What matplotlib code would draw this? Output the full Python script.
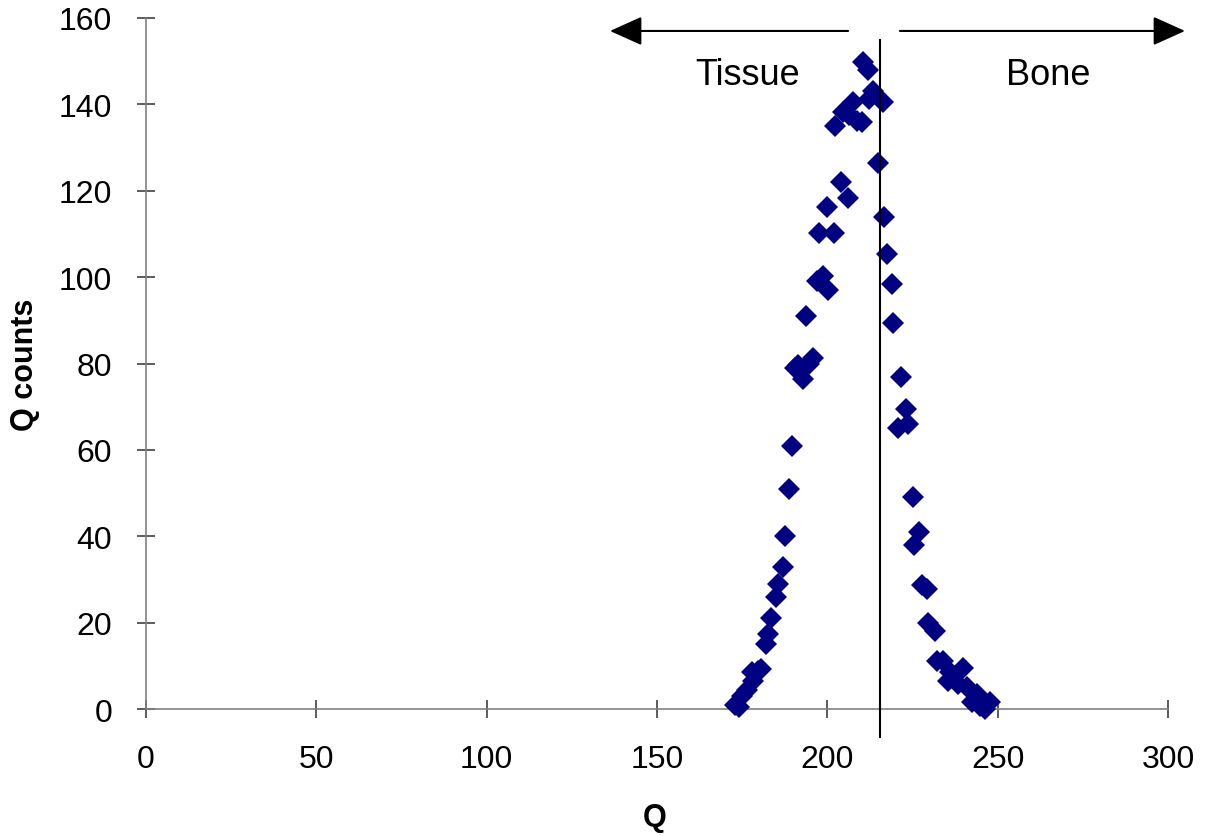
import matplotlib
matplotlib.use("Agg")
import matplotlib.pyplot as plt

plt.rcParams['font.family'] = ['Liberation Sans', 'DejaVu Sans']

# histogram points
q = [173, 174, 175, 176.5, 178, 178.2, 179.6, 180.5, 182, 182.5, 183.5, 185, 185.5,
     187, 187.6, 188.7, 189.6, 190.5, 191.4, 192.9, 193.7, 194.6, 195.8, 197, 197.6,
     198.7, 199.9, 200.2, 202, 202.2, 204, 204.6, 206.1, 206.5, 207.5, 208.7, 210.2,
     210.5, 211.9, 212.2, 213.4, 214.9, 216.3, 216.6, 217.5, 219, 219.3, 220.7, 221.6,
     223.1, 223.7, 225.1, 225.4, 226.9, 227.8, 229.3, 229.5, 231.5, 232.2, 233.9,
     235.4, 236, 238.4, 239.8, 241, 242.5, 243.9, 244.8, 246.3, 247.7]
counts = [1, 0.5, 3, 4.5, 8.5, 6.5, 8.8, 9.3, 15, 17.4, 21, 26, 29,
          33, 40, 51, 61, 79, 79.6, 76.4, 91, 80, 81.3, 99, 110.2,
          100.3, 116.2, 97, 110.2, 135, 122, 138.2, 118.3, 137.5, 140.5, 136.1, 135.9,
          149.8, 147.9, 141.2, 143.1, 126.4, 140.5, 113.9, 105.3, 98.4, 89.4, 65.1, 76.9,
          69.5, 66, 49.1, 38, 41, 28.7, 27.8, 20, 18.1, 11.1, 11.1,
          6.5, 8.6, 5.8, 9.5, 5.1, 1.6, 3.5, 0.7, 0, 1.6]

threshold = 215.5
regions = ["Tissue", "Bone"]

fig = plt.figure(figsize=(12.15, 8.37), dpi=100)
ax = fig.add_axes([0.1202, 0.1517, 0.8411, 0.8256])

ax.plot(q, counts, linestyle='none', marker='D', markersize=11,
        color='#000080', markeredgewidth=0, clip_on=False, zorder=3)

# threshold line
ax.plot([threshold, threshold], [-6.5, 154.8], color='black', lw=1.5,
        clip_on=False, zorder=4)

# region arrows
arrow = dict(arrowstyle='-|>,head_length=1.0,head_width=0.45', lw=1.5,
             color='black', mutation_scale=20, shrinkA=0, shrinkB=0)
ax.annotate('', xy=(136.2, 157), xytext=(206.1, 157), arrowprops=arrow,
            annotation_clip=False)
ax.annotate('', xy=(305, 157), xytext=(221.3, 157), arrowprops=arrow,
            annotation_clip=False)
ax.text(176.7, 147, regions[0], fontsize=26, ha='center', va='center')
ax.text(264.8, 147, regions[1], fontsize=26, ha='center', va='center')

ax.set_xlim(0, 300)
ax.set_ylim(0, 160)
ax.set_xticks(range(0, 301, 50))
ax.set_yticks(range(0, 161, 20))

for s in ['top', 'right']:
    ax.spines[s].set_visible(False)
for s in ['left', 'bottom']:
    ax.spines[s].set_color('#808080')
    ax.spines[s].set_linewidth(1.2)
ax.tick_params(direction='inout', length=13, width=1.2, color='#404040',
               labelsize=23)
ax.tick_params(axis='x', pad=19)
ax.tick_params(axis='y', pad=18)

ax.set_xlabel('Q', fontsize=22, fontweight='bold')
ax.set_ylabel('Q counts', fontsize=22, fontweight='bold')
ax.xaxis.set_label_coords(0.498, -0.1346)
ax.yaxis.set_label_coords(-0.1037, 0.499)

fig.savefig('out.png', dpi=100)
